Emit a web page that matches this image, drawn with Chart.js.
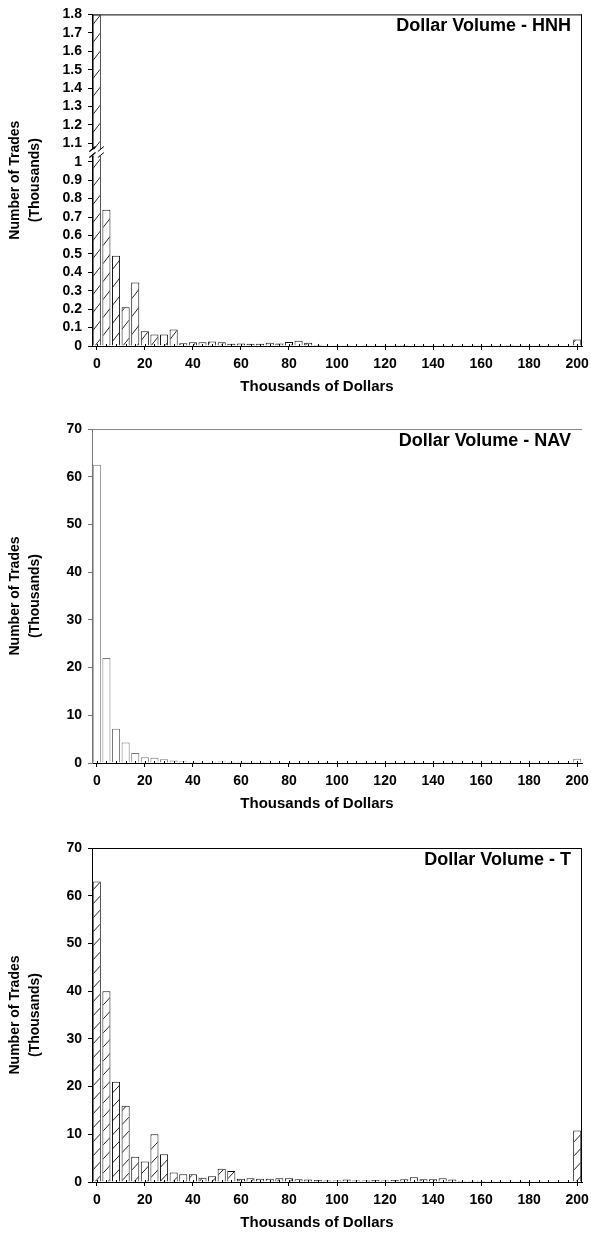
<!DOCTYPE html>
<html>
<head>
<meta charset="utf-8">
<script src="https://cdn.jsdelivr.net/npm/chart.js@4.4.1/dist/chart.umd.min.js"></script>
<style>
  body { margin: 0; background: #fff; }
  #page { position: relative; width: 591px; height: 1234px; background: #fff; }
  canvas { position: absolute; left: 0; }
</style>
</head>
<body>
<div id="page">
  <canvas id="hnhChart" width="591" height="400" style="top:0px"></canvas>
  <canvas id="navChart" width="591" height="410" style="top:410px"></canvas>
  <canvas id="tChart" width="591" height="412" style="top:822px"></canvas>
</div>
<script>
// 1. DATA
const binLabels = ['0','4','8','12','16','20','24','28','32','36','40','44','48','52','56','60','64','68','72','76',
                   '80','84','88','92','96','100','104','108','112','116','120','124','128','132','136','140','144','148','152','156',
                   '160','164','168','172','176','180','184','188','192','196','200'];

// thousands of trades per $4k bin
const hnhValues = [1.8, 0.74, 0.49, 0.21, 0.345, 0.08, 0.063, 0.063, 0.09, 0.015,
                   0.02, 0.02, 0.025, 0.02, 0.012, 0.014, 0.012, 0.012, 0.018, 0.014,
                   0.022, 0.028, 0.018, 0.005, 0.003, 0.002, 0.002, 0.003, 0.002, 0.002,
                   0.002, 0.004, 0.005, 0.003, 0.002, 0.002, 0.002, 0.002, 0.002, 0.002,
                   0.002, 0.002, 0.004, 0.005, 0.004, 0.002, 0.002, 0.002, 0.001, 0.001,
                   0.035];
const navValues = [62.5, 22, 7.2, 4.3, 2.1, 1.2, 1.1, 0.8, 0.5, 0.3,
                   0.2, 0.15, 0.2, 0.3, 0.25, 0.25, 0.25, 0.2, 0.15, 0.15,
                   0.1, 0.1, 0.1, 0.1, 0.15, 0.08, 0.08, 0.08, 0.07, 0.07,
                   0.07, 0.07, 0.06, 0.06, 0.06, 0.06, 0.06, 0.05, 0.05, 0.05,
                   0.05, 0.05, 0.05, 0.05, 0.05, 0.05, 0.05, 0.05, 0.05, 0.05,
                   0.9];
const tValues = [63, 40, 21, 16, 5.3, 4.3, 10, 5.8, 2.0, 1.6,
                 1.6, 0.9, 1.2, 2.8, 2.3, 0.7, 0.8, 0.7, 0.7, 0.8,
                 0.8, 0.6, 0.5, 0.4, 0.3, 0.3, 0.5, 0.3, 0.3, 0.4,
                 0.3, 0.4, 0.6, 1.0, 0.6, 0.6, 0.8, 0.5, 0.2, 0.2,
                 0.2, 0.15, 0.15, 0.15, 0.15, 0.15, 0.15, 0.1, 0.1, 0.1,
                 10.8];

const hnhTitle = 'Dollar Volume - HNH';
const navTitle = 'Dollar Volume - NAV';
const tTitle = 'Dollar Volume - T';
const xTitle = 'Thousands of Dollars';
const yTitle = ['Number of Trades', '(Thousands)'];

// 2. HELPERS
const FONT = '"Liberation Sans", Arial, Helvetica, sans-serif';

function hatch(w, h, color) {
    const c = document.createElement('canvas');
    c.width = w; c.height = h;
    const g = c.getContext('2d');
    g.fillStyle = '#fff';
    g.fillRect(0, 0, w, h);
    g.strokeStyle = color;
    g.lineWidth = 1;
    const k = h / w;
    g.beginPath();
    g.moveTo(-1, h + k);
    g.lineTo(w + 1, -k);
    g.stroke();
    return g.createPattern(c, 'repeat');
}

// title in the top-right corner, x title, frame on top / right, small inward x ticks
const decorPlugin = {
    id: 'decor',
    afterDraw(chart, args, o) {
        const { ctx, chartArea: a } = chart;
        const xs = chart.scales.x;
        ctx.save();
        ctx.strokeStyle = o.frameColor;
        ctx.lineWidth = 1;
        ctx.beginPath();
        ctx.moveTo(a.left, a.top + 0.5);
        ctx.lineTo(a.right, a.top + 0.5);
        if (o.rightFrame) {
            ctx.moveTo(a.right - 0.5, a.top);
            ctx.lineTo(a.right - 0.5, a.bottom);
        }
        ctx.stroke();

        ctx.strokeStyle = '#000';
        ctx.beginPath();
        xs.ticks.forEach((t, i) => {
            const x = Math.round(xs.getPixelForTick(i)) + 0.5;
            ctx.moveTo(x, a.bottom);
            ctx.lineTo(x, a.bottom - 2);
        });
        ctx.stroke();

        ctx.fillStyle = '#000';
        ctx.font = 'bold 18px ' + FONT;
        ctx.textAlign = 'right';
        ctx.textBaseline = 'middle';
        ctx.fillText(o.title, a.right - 11, a.top + 12);

        ctx.font = 'bold 15px ' + FONT;
        ctx.textAlign = 'center';
        ctx.fillText(xTitle, (a.left + a.right) / 2 - 20, a.bottom + 41);

        // axis break between 1 and 1.1
        if (o.breakAt) {
            const ys = chart.scales.y;
            const y = ys.getPixelForValue(o.breakAt);
            const bar = chart.getDatasetMeta(0).data[0];
            const x0 = a.left - 3, x1 = bar.x + bar.width / 2 + 2;
            ctx.fillStyle = '#fff';
            ctx.fillRect(x0, y - 3, x1 - x0, 6);
            ctx.strokeStyle = '#000';
            ctx.beginPath();
            [a.left, bar.x - bar.width / 2, bar.x + bar.width / 2].forEach(x => {
                ctx.moveTo(x - 3, y - 1);
                ctx.lineTo(x + 3, y - 6);
                ctx.moveTo(x - 3, y + 5);
                ctx.lineTo(x + 3, y);
            });
            ctx.stroke();
        }
        ctx.restore();
    }
};

function makeChart(id, values, opts) {
    return new Chart(document.getElementById(id), {
        type: 'bar',
        data: {
            labels: binLabels,
            datasets: [{
                data: values,
                backgroundColor: opts.fill,
                borderColor: opts.barBorder,
                borderWidth: 1,
                barPercentage: 0.84,
                categoryPercentage: 1.0
            }]
        },
        options: {
            responsive: false,
            animation: false,
            events: [],
            layout: { padding: { top: opts.padTop, bottom: opts.padBottom, left: 0, right: 9 } },
            plugins: {
                legend: { display: false },
                tooltip: { enabled: false },
                decor: { title: opts.title, frameColor: opts.frameColor, rightFrame: opts.rightFrame, breakAt: opts.breakAt }
            },
            scales: {
                x: {
                    type: 'category',
                    offset: true,
                    afterFit: s => { s.height = 52; s.paddingRight = 0; s.paddingLeft = 0; },
                    border: { color: '#000', width: 1 },
                    grid: {
                        drawOnChartArea: false,
                        offset: false,
                        tickLength: 4,
                        tickColor: c => (c.index % 5 === 0 ? '#000' : 'rgba(0,0,0,0)')
                    },
                    ticks: {
                        autoSkip: false,
                        maxRotation: 0,
                        padding: 6,
                        color: '#000',
                        font: { family: FONT, size: 14, weight: 'bold' },
                        callback: (v, i) => (i % 5 === 0 ? binLabels[i] : '')
                    }
                },
                y: {
                    min: 0,
                    max: opts.yMax,
                    afterFit: s => { s.width = 92; },
                    border: { color: opts.yAxisColor, width: 1 },
                    grid: { drawOnChartArea: false, tickLength: 4, tickColor: opts.yAxisColor },
                    ticks: {
                        stepSize: opts.yStep,
                        autoSkip: false,
                        padding: 6,
                        color: '#000',
                        font: { family: FONT, size: 14, weight: 'bold' },
                        callback: v => String(Number(v.toFixed(1)))
                    },
                    title: {
                        display: true,
                        text: yTitle,
                        color: '#000',
                        font: { family: FONT, size: 14, weight: 'bold', lineHeight: 1.43 },
                        padding: { top: 5, bottom: 4 }
                    }
                }
            }
        },
        plugins: [decorPlugin]
    });
}

// 3. CHARTS
makeChart('hnhChart', hnhValues, {
    fill: hatch(14, 18, '#222'), barBorder: '#111',
    padTop: 12, padBottom: 2, yMax: 1.8, yStep: 0.1, yAxisColor: '#000',
    title: hnhTitle, frameColor: '#000', rightFrame: true, breakAt: 1.05
});

makeChart('navChart', navValues, {
    fill: '#fff', barBorder: '#777',
    padTop: 19, padBottom: 5, yMax: 70, yStep: 10, yAxisColor: '#777',
    title: navTitle, frameColor: '#888', rightFrame: false
});

makeChart('tChart', tValues, {
    fill: hatch(13, 14, '#222'), barBorder: '#111',
    padTop: 26, padBottom: 0, yMax: 70, yStep: 10, yAxisColor: '#000',
    title: tTitle, frameColor: '#000', rightFrame: true
});
</script>
</body>
</html>
